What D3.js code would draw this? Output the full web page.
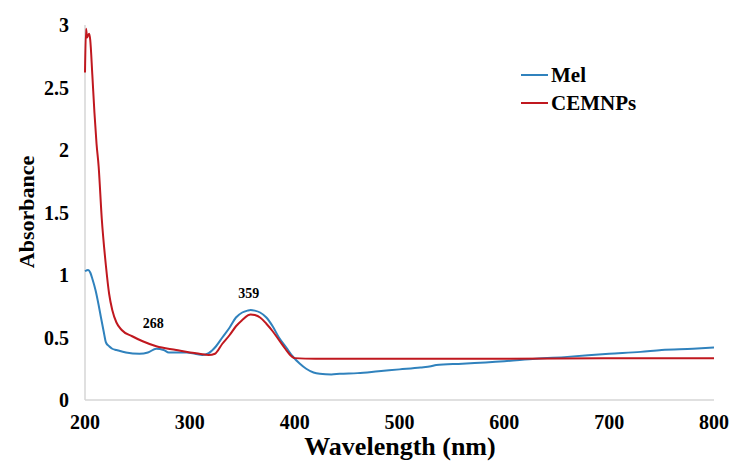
<!DOCTYPE html>
<html>
<head>
<meta charset="utf-8">
<script src="https://cdn.jsdelivr.net/npm/d3@7"></script>
<style>
  body { margin: 0; background: #fff; }
</style>
</head>
<body>
<svg id="chart" width="731" height="461"></svg>
<script>
// Mel spectrum (wavelength nm, absorbance)
var melWl = [200,203,205,207,210,213,215,218,220,223,226,230,239,252,260,268,275,280,290,297,305,312,318,325,331,338,344,350,355,358,362,367,373,379,385,392,398,405,411,418,424,435,443,460,480,500,520,530,535,560,600,630,660,700,730,750,780,800];
var melAbs = [1.03,1.04,1.02,0.97,0.88,0.76,0.67,0.54,0.46,0.43,0.41,0.40,0.38,0.37,0.38,0.41,0.40,0.38,0.38,0.38,0.37,0.36,0.375,0.43,0.50,0.58,0.66,0.70,0.715,0.72,0.715,0.70,0.66,0.59,0.50,0.42,0.35,0.29,0.25,0.22,0.21,0.205,0.21,0.215,0.23,0.245,0.26,0.27,0.28,0.29,0.31,0.33,0.345,0.37,0.385,0.40,0.41,0.42];

// CEMNPs spectrum
var cemWl = [200,201,202,203,204,205,207,209,211,213,216,220,223,226,230,235,245,255,268,287,300,309,318,324,331,338,344,350,355,358,362,367,373,379,385,391,397,400,420,500,600,700,800];
var cemAbs = [2.62,2.97,2.90,2.92,2.93,2.88,2.6,2.3,2.05,1.87,1.45,1.07,0.85,0.72,0.62,0.56,0.51,0.47,0.43,0.40,0.38,0.37,0.36,0.37,0.45,0.52,0.59,0.64,0.675,0.685,0.68,0.66,0.61,0.55,0.48,0.41,0.35,0.335,0.33,0.33,0.33,0.335,0.335];

var xTicks = [200,300,400,500,600,700,800];
var yTicks = [0,0.5,1,1.5,2,2.5,3];
var seriesNames = ["Mel", "CEMNPs"];
var colors = ["#3082bd", "#c0181f"];
// peak annotations: wavelength, absorbance level the label sits at
var peakLabels = [{wl: 268, abs: 0.58, text: "268"}, {wl: 359, abs: 0.82, text: "359"}];

var font = "'Liberation Serif', 'Times New Roman', serif";

var svg = d3.select("#chart");

var x = d3.scaleLinear().domain([200, 800]).range([85, 714]);
var y = d3.scaleLinear().domain([0, 3]).range([400, 25]);

// axes lines
svg.append("line")
    .attr("x1", x(200)).attr("x2", x(800))
    .attr("y1", y(0)).attr("y2", y(0))
    .attr("stroke", "#d6d6d6").attr("stroke-width", 1.5);
svg.append("line")
    .attr("x1", x(200)).attr("x2", x(200))
    .attr("y1", y(0)).attr("y2", y(3))
    .attr("stroke", "#d6d6d6").attr("stroke-width", 1.5);

svg.append("g").selectAll("text")
  .data(xTicks)
  .join("text")
    .attr("x", d => x(d))
    .attr("y", 429)
    .attr("text-anchor", "middle")
    .attr("font-family", font)
    .attr("font-weight", "bold")
    .attr("font-size", 20)
    .text(d => d);

svg.append("g").selectAll("text")
  .data(yTicks)
  .join("text")
    .attr("x", 69)
    .attr("y", d => y(d) + 7)
    .attr("text-anchor", "end")
    .attr("font-family", font)
    .attr("font-weight", "bold")
    .attr("font-size", 20)
    .text(d => d);

svg.append("text")
    .attr("transform", "translate(34,212) rotate(-90)")
    .attr("text-anchor", "middle")
    .attr("font-family", font)
    .attr("font-weight", "bold")
    .attr("font-size", 22)
    .text("Absorbance");

svg.append("text")
    .attr("x", 400)
    .attr("y", 455)
    .attr("text-anchor", "middle")
    .attr("font-family", font)
    .attr("font-weight", "bold")
    .attr("font-size", 26)
    .text("Wavelength (nm)");

var line = d3.line()
    .x(d => x(d[0]))
    .y(d => y(d[1]))
    .curve(d3.curveMonotoneX);

var series = [d3.zip(melWl, melAbs), d3.zip(cemWl, cemAbs)];

svg.append("g").selectAll("path")
  .data(series)
  .join("path")
    .attr("d", line)
    .attr("fill", "none")
    .attr("stroke", (d, i) => colors[i])
    .attr("stroke-width", 2);

svg.append("g").selectAll("text")
  .data(peakLabels)
  .join("text")
    .attr("x", d => x(d.wl) - 3)
    .attr("y", d => y(d.abs))
    .attr("text-anchor", "middle")
    .attr("font-family", font)
    .attr("font-weight", "bold")
    .attr("font-size", 14)
    .text(d => d.text);

// legend
var legend = svg.append("g").selectAll("g")
  .data(seriesNames)
  .join("g")
    .attr("transform", (d, i) => "translate(521," + (75 + i * 28) + ")");
legend.append("line")
    .attr("x1", 0).attr("x2", 27)
    .attr("stroke", (d, i) => colors[i])
    .attr("stroke-width", 2);
legend.append("text")
    .attr("x", 30)
    .attr("y", 7)
    .attr("font-family", font)
    .attr("font-weight", "bold")
    .attr("font-size", 21)
    .text(d => d);
</script>
</body>
</html>
